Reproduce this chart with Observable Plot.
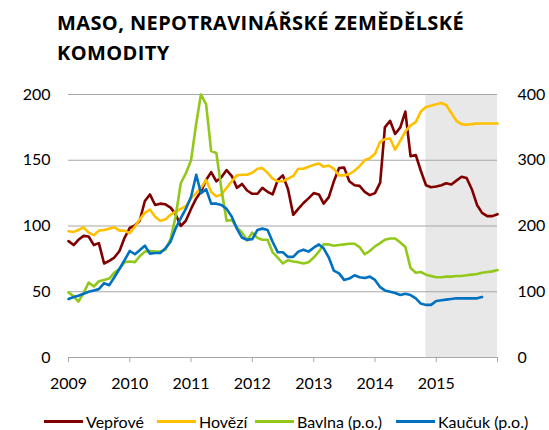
<!DOCTYPE html>
<html><head><meta charset="utf-8">
<script src="https://cdn.jsdelivr.net/npm/d3@7"></script>
<script src="https://cdn.jsdelivr.net/npm/@observablehq/plot@0.6"></script>
<style>
body{margin:0;background:#fff;font-family:Lato,"Open Sans",sans-serif;color:#000}
#wrap{width:549px;height:430px;position:relative;overflow:hidden}
#title{position:absolute;left:57px;top:8px;font-family:"Open Sans",sans-serif;font-weight:700;font-size:20px;line-height:30px;white-space:nowrap;letter-spacing:0.4px}
#chart{position:absolute;left:0;top:80px}
.item{position:absolute;top:411px;height:20px;display:flex;align-items:center;font-size:16px;white-space:nowrap}
.sw{display:inline-block;width:39px;height:3px;margin-right:3px}
</style></head>
<body><div id="wrap">
<div id="title">MASO, NEPOTRAVINÁŘSKÉ ZEMĚDĚLSKÉ<br>KOMODITY</div>
<div id="chart"></div>
<div id="legend"></div>
</div>
<script>
// Series names and colours
const seriesNames = ["Vepřové", "Hovězí", "Bavlna (p.o.)", "Kaučuk (p.o.)"];
const seriesColors = ["#800000", "#ffc000", "#92c81a", "#0070c0"];
// Monthly values, Jan 2009 .. Jan 2016 (left axis)
const veprove = [
 88.5,85.5,89.5,92.5,92,85.5,87,71.5,73.5,76,81,91,
 98.5,100.5,104,119,124,116,117,116.5,114,109,100,104,
 113,121,126,135,141,134,137,142.5,138,129,132,127,
 124.5,124.5,129,126,124,135,138.5,128,108.5,113,117.5,121,
 125,124,117,122,134,144,144.5,134,131,130.5,126,123.5,
 125,133,175,180,170,175,187,153,154,142,131,129.5,
 130,131,132.5,131.5,134.5,137.5,136.5,128,116,110,107.5,107.5,
 109];
const hovezi = [
 96,95.5,97,99,95,93,96.5,97,98,99,96.5,96.5,
 94.5,99.5,105,110,112.5,107,104,105,108.5,111,113,115,
 121,125,129,135,126,122.5,124,129,134,138.5,139,139,
 140.5,143.5,144,140.5,136,134,134,136,138,143.5,143.5,145,
 146.5,147.5,145,146,143.5,138.5,138.5,139.5,142,145.5,150,151.5,
 155,164,166,166.5,158,165,172,176.5,179,187,190.5,191.5,
 192.5,193.5,192,186,180,177.5,177,177.5,178,178,178,178,
 178];
// Right axis (p.o.) values
const bavlna = [
 99,93,85,98,114,108,116,118,120,129,135,145,
 146,145,154,161,162,161,161,164,180,214,265,280,
 300,356,400,385,314,311,256,208,209,198,190,178,
 190,182,179,179,160,152,143,148,146,145,143,145,
 152,161,172,172,170,171,172,173,173,168,157,162,
 169,174,179,181,181,175,168,136,129,130,126,124,
 122,122,123,123,124,124,125,126,127,129,130,131,
 133];
const kaucuk = [
 89,92,94,97,100,102,104,113,110,122,135,148,
 162,157,163,170,158,159,159,166,176,196,212,226,
 244,278,250,256,234,234,232,226,214,196,182,179,
 180,194,196,194,176,160,160,153,153,161,164,161,
 167,172,166,152,132,128,118,120,125,122,121,123,
 118,107,102,100,98,95,97,95,90,82,80,80,
 86,87,88,89,90,90,90,90,90,92,null,null,
 null];
const xTickLabels = ["2009","2010","2011","2012","2013","2014","2015"];
const yTicks = [0, 50, 100, 150, 200];
const y2Ticks = [0, 100, 200, 300, 400];
const forecastStart = "2014-11-01";
const xEnd = "2016-01-01";

const months = d3.utcMonth.range(new Date(Date.UTC(2009,0,1)), new Date(Date.UTC(2016,0,2)));
const yearTicks = d3.utcYear.range(new Date(Date.UTC(2009,0,1)), new Date(Date.UTC(2016,0,2)));

function rows(vals, name, scale){
  return vals.map((v,i)=>({date:months[i], v: v==null?null:v/scale, name}));
}
const data = [
  ...rows(veprove, seriesNames[0], 1),
  ...rows(hovezi, seriesNames[1], 1),
  ...rows(bavlna, seriesNames[2], 2),
  ...rows(kaucuk, seriesNames[3], 2)
];

const chart = Plot.plot({
  width:549, height:320,
  marginLeft:68, marginRight:52, marginTop:14, marginBottom:43,
  style:{fontFamily:"Lato, 'Open Sans', sans-serif", fontSize:"16px", color:"#000", background:"transparent", overflow:"visible"},
  x:{type:"utc", domain:[new Date(Date.UTC(2009,0,1)), new Date(xEnd)]},
  y:{domain:[0,200]},
  color:{domain:seriesNames, range:seriesColors},
  marks:[
    Plot.rect([{a:new Date(forecastStart), b:new Date(xEnd)}], {x1:"a", x2:"b", y1:0, y2:200, fill:"#e8e8e8"}),
    Plot.ruleY(yTicks, {stroke:"#a6a6a6", strokeWidth:1}),
    Plot.axisX({ticks:yearTicks, tickSize:5, tickPadding:15, stroke:"#a6a6a6",
      tickFormat:(d)=>xTickLabels[d.getUTCFullYear()-2009] ?? "", label:null}),
    Plot.axisY({ticks:yTicks, tickSize:0, tickPadding:18, label:null}),
    Plot.axisY({anchor:"right", ticks:y2Ticks.map(v=>v/2), tickSize:0, tickPadding:20,
      tickFormat:(d)=>String(y2Ticks[yTicks.indexOf(d)]), textAnchor:"start", label:null}),
    Plot.line(data, {x:"date", y:"v", z:"name", stroke:"name", strokeWidth:2.6, strokeLinejoin:"round", strokeLinecap:"round"})
  ]
});
document.getElementById("chart").appendChild(chart);

const legendLeft = [44, 157, 255, 396];
const lg = document.getElementById("legend");
seriesNames.forEach((n,i)=>{
  const it = document.createElement("div");
  it.className = "item";
  it.style.left = legendLeft[i] + "px";
  it.innerHTML = `<span class="sw" style="background:${seriesColors[i]}"></span><span>${n}</span>`;
  lg.appendChild(it);
});
</script>
</body></html>
